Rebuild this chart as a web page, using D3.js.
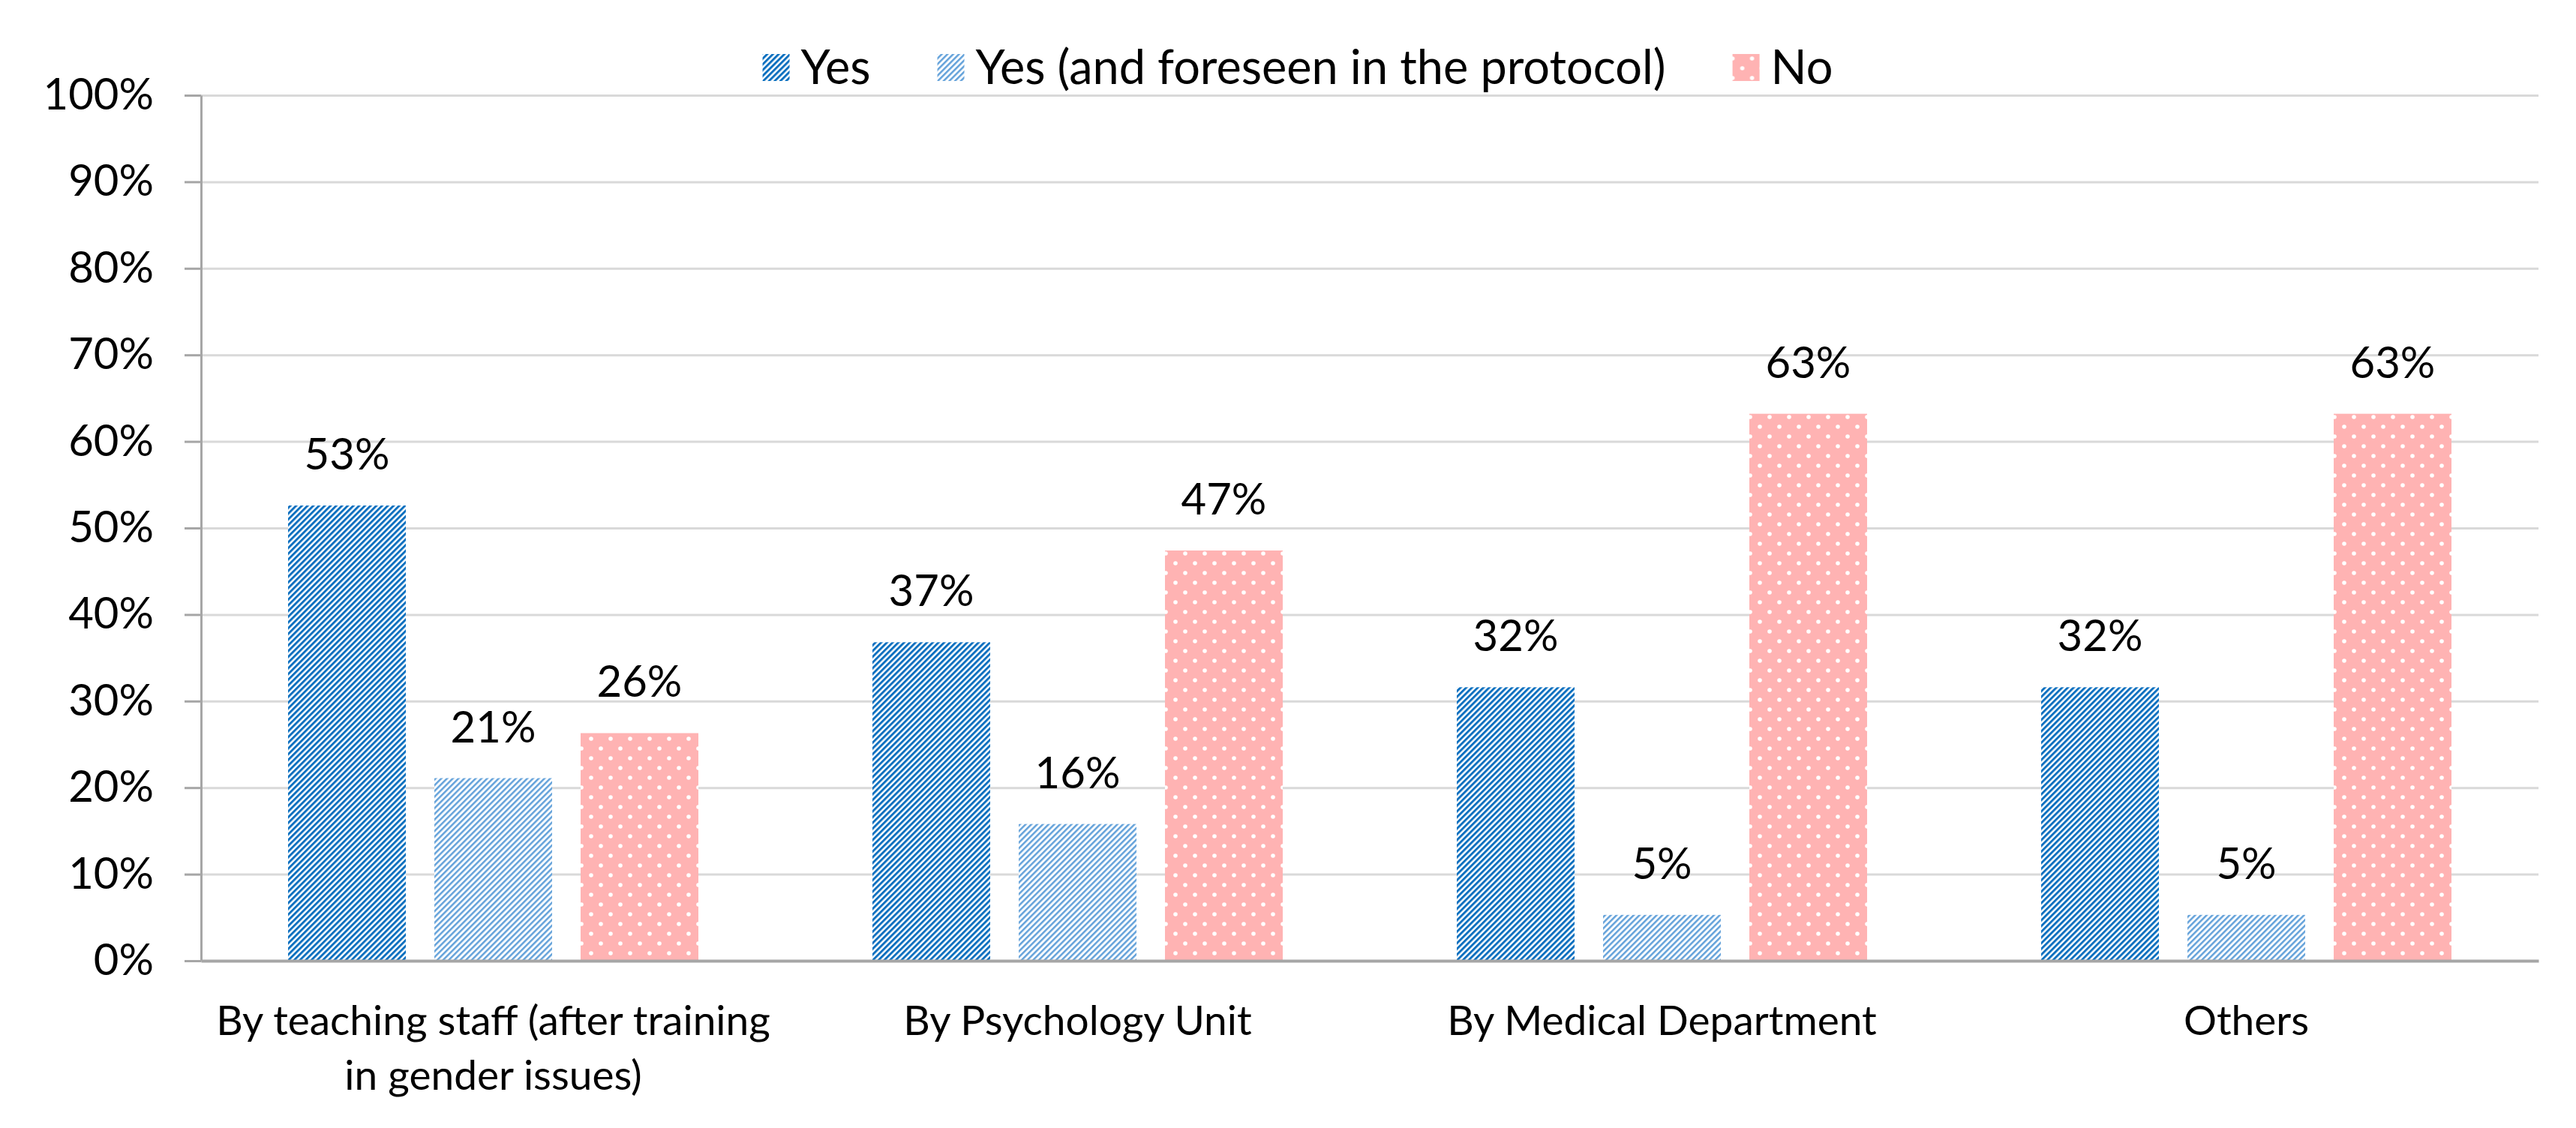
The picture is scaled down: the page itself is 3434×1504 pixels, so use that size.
<!DOCTYPE html>
<html>
<head>
<meta charset="utf-8">
<script src="https://cdn.jsdelivr.net/npm/d3@7"></script>
<style>
  body { margin: 0; background: #fff; }
  text { font-family: Lato, "Open Sans", sans-serif; fill: #000; }
</style>
</head>
<body>
<script>
// chart data
var categories = ["By teaching staff (after training in gender issues)", "By Psychology Unit", "By Medical Department", "Others"];
var categoryLines = [["By teaching staff (after training", "in gender issues)"], ["By Psychology Unit"], ["By Medical Department"], ["Others"]];
var seriesNames = ["Yes", "Yes (and foreseen in the protocol)", "No"];
var yesValues = [52.6, 36.8, 31.6, 31.6];
var yesProtocolValues = [21.1, 15.8, 5.3, 5.3];
var noValues = [26.3, 47.4, 63.2, 63.2];
var yTicks = [0, 10, 20, 30, 40, 50, 60, 70, 80, 90, 100];

// set the dimensions and margins of the graph
var W = 3434, H = 1504;
var margin = {top: 127, right: 50, bottom: 223, left: 268},
  width = W - margin.left - margin.right,
  height = H - margin.top - margin.bottom;

var svg = d3.select("body").append("svg")
  .attr("width", W)
  .attr("height", H);

// fill patterns
var defs = svg.append("defs");

var pYes = defs.append("pattern").attr("id", "pat-yes")
  .attr("patternUnits", "userSpaceOnUse")
  .attr("width", 5.4).attr("height", 5.4)
  .attr("patternTransform", "rotate(45)");
pYes.append("rect").attr("width", 5.4).attr("height", 5.4).attr("fill", "#fff");
pYes.append("rect").attr("width", 2.9).attr("height", 5.4).attr("fill", "#0a6fbf");

var pProt = defs.append("pattern").attr("id", "pat-prot")
  .attr("patternUnits", "userSpaceOnUse")
  .attr("width", 5.4).attr("height", 5.4)
  .attr("patternTransform", "rotate(45)");
pProt.append("rect").attr("width", 5.4).attr("height", 5.4).attr("fill", "#fff");
pProt.append("rect").attr("width", 2.5).attr("height", 5.4).attr("fill", "#64a2da");

var pNo = defs.append("pattern").attr("id", "pat-no")
  .attr("patternUnits", "userSpaceOnUse")
  .attr("width", 26).attr("height", 26);
pNo.append("rect").attr("width", 26).attr("height", 26).attr("fill", "#ffb3b3");
[[0, 0], [26, 0], [0, 26], [26, 26], [13, 13]].forEach(function(p) {
  pNo.append("circle").attr("cx", p[0]).attr("cy", p[1]).attr("r", 2.8).attr("fill", "#fff");
});

var fills = {"Yes": "url(#pat-yes)", "Yes (and foreseen in the protocol)": "url(#pat-prot)", "No": "url(#pat-no)"};

var g = svg.append("g")
  .attr("transform", "translate(" + margin.left + "," + margin.top + ")");

// set the ranges
var x0 = d3.scaleBand().domain(categories).range([0, width]);
var x1 = d3.scaleBand().domain(seriesNames).range([0, x0.bandwidth()])
  .paddingInner(0.195).paddingOuter(0.595);
var y = d3.scaleLinear().domain([0, 100]).range([height, 0]);

// gridlines
g.append("g")
  .call(d3.axisLeft(y).tickValues(yTicks).tickSize(-width).tickFormat(""))
  .call(function(s) { s.select(".domain").remove(); })
  .selectAll("line").attr("stroke", "#d9d9d9").attr("stroke-width", 3);

// Y axis
var yAxis = g.append("g")
  .call(d3.axisLeft(y).tickValues(yTicks).tickSize(22).tickSizeOuter(0).tickPadding(41)
    .tickFormat(function(d) { return d + "%"; }));
yAxis.select(".domain").attr("stroke", "#a6a6a6").attr("stroke-width", 3);
yAxis.selectAll(".tick line").attr("stroke", "#a6a6a6").attr("stroke-width", 3);
yAxis.selectAll(".tick text").attr("font-size", 58).attr("font-family", "Lato").attr("fill", "#000");

// rows for the bars
var rows = categories.map(function(c, i) {
  return {cat: c, values: [
    {key: seriesNames[0], value: yesValues[i]},
    {key: seriesNames[1], value: yesProtocolValues[i]},
    {key: seriesNames[2], value: noValues[i]}
  ]};
});

var groups = g.selectAll(".grp").data(rows).enter().append("g")
  .attr("transform", function(d) { return "translate(" + x0(d.cat) + ",0)"; });

groups.selectAll("rect").data(function(d) { return d.values; }).enter().append("rect")
  .attr("x", function(d) { return x1(d.key); })
  .attr("y", function(d) { return y(d.value); })
  .attr("width", x1.bandwidth())
  .attr("height", function(d) { return height - y(d.value); })
  .attr("fill", function(d) { return fills[d.key]; });

groups.selectAll(".lbl").data(function(d) { return d.values; }).enter().append("text")
  .attr("x", function(d) { return x1(d.key) + x1.bandwidth() / 2; })
  .attr("y", function(d) { return y(d.value) - 48; })
  .attr("text-anchor", "middle")
  .attr("font-size", 58)
  .text(function(d) { return Math.round(d.value) + "%"; });

// X axis
var xAxis = g.append("g")
  .attr("transform", "translate(0," + height + ")")
  .call(d3.axisBottom(x0).tickSize(0).tickFormat(""));
xAxis.select(".domain").attr("stroke", "#a6a6a6").attr("stroke-width", 4);
xAxis.selectAll(".tick text").each(function(d, i) {
  var t = d3.select(this).attr("y", 99).attr("dy", null)
    .attr("font-size", 55).attr("font-family", "Lato").attr("fill", "#000");
  categoryLines[i].forEach(function(line, j) {
    t.append("tspan").attr("x", 0).attr("dy", j === 0 ? 0 : 73).text(line);
  });
});

// legend
var legend = svg.append("g");
var lx = 0;
seriesNames.forEach(function(name) {
  var item = legend.append("g").attr("transform", "translate(" + lx + ",0)");
  item.append("rect").attr("x", 0).attr("y", 72).attr("width", 36).attr("height", 36)
    .attr("fill", fills[name]);
  var t = item.append("text").attr("x", 51).attr("y", 112).attr("font-size", 63).text(name);
  lx += 51 + t.node().getComputedTextLength() + 89;
});
var legendW = lx - 89;
legend.attr("transform", "translate(" + (1730 - legendW / 2) + ",0)");
</script>
</body>
</html>
